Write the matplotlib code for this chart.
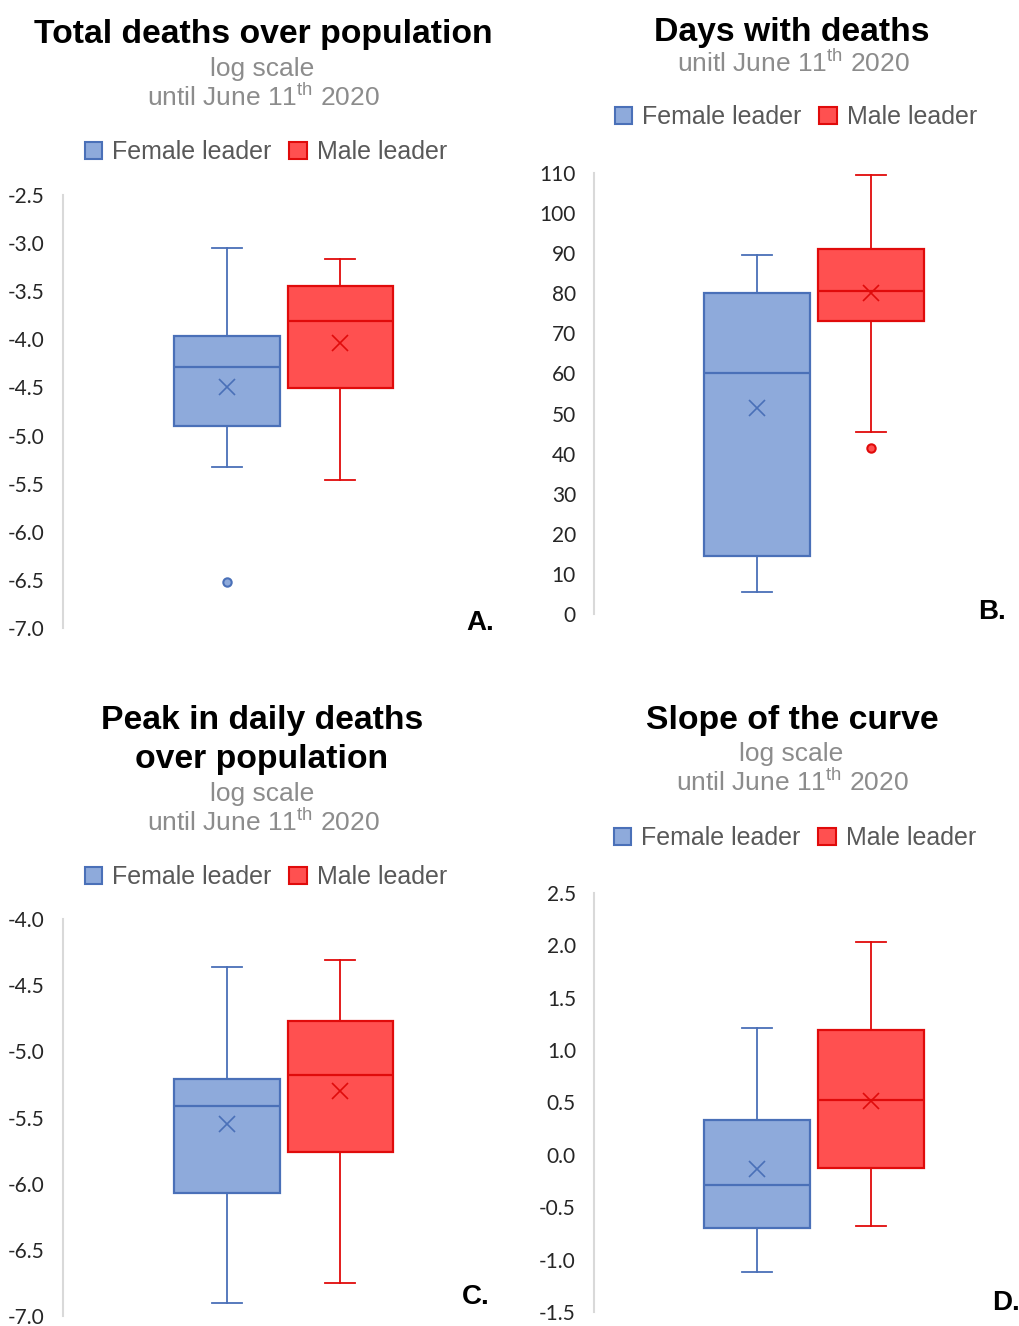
import matplotlib.pyplot as plt
from matplotlib.patches import Patch
from matplotlib.ticker import FormatStrFormatter

plt.rcParams['mathtext.fontset'] = 'custom'
plt.rcParams['mathtext.rm'] = 'Liberation Sans'

# box stats: [lower whisker, Q1, median, Q3, upper whisker]
a_female_box = [-5.33, -4.90, -4.29, -3.97, -3.05]
a_female_mean = -4.50
a_female_out = [-6.52]
a_male_box = [-5.46, -4.51, -3.81, -3.45, -3.17]
a_male_mean = -4.04
a_male_out = []

b_female_box = [5.5, 14.5, 60, 80, 89.5]
b_female_mean = 51.4
b_female_out = []
b_male_box = [45.5, 73, 80.5, 91, 109.5]
b_male_mean = 80
b_male_out = [41.5]

c_female_box = [-6.90, -6.07, -5.41, -5.21, -4.36]
c_female_mean = -5.55
c_female_out = []
c_male_box = [-6.75, -5.76, -5.18, -4.77, -4.31]
c_male_mean = -5.30
c_male_out = []

d_female_box = [-1.12, -0.70, -0.29, 0.33, 1.21]
d_female_mean = -0.135
d_female_out = []
d_male_box = [-0.68, -0.13, 0.52, 1.19, 2.03]
d_male_mean = 0.51
d_male_out = []

a_ticks = [-2.5, -3.0, -3.5, -4.0, -4.5, -5.0, -5.5, -6.0, -6.5, -7.0]
b_ticks = [0, 10, 20, 30, 40, 50, 60, 70, 80, 90, 100, 110]
c_ticks = [-4.0, -4.5, -5.0, -5.5, -6.0, -6.5, -7.0]
d_ticks = [2.5, 2.0, 1.5, 1.0, 0.5, 0.0, -0.5, -1.0, -1.5]

series_names = ['Female leader', 'Male leader']

FEM_FILL, FEM_EDGE = '#8eaadb', '#4a70b8'
MAL_FILL, MAL_EDGE = '#ff5050', '#e00b0b'

W, H = 1019, 1326
fig = plt.figure(figsize=(W / 100, H / 100), dpi=100)


def px_axes(left, top, right, bottom):
    return fig.add_axes([left / W, 1 - bottom / H, (right - left) / W, (bottom - top) / H])


def ftext(x, y, s, **kw):
    kw.setdefault('ha', 'center')
    fig.text(x / W, 1 - y / H, s, va='baseline', **kw)


def make_stats(box, mean, out):
    return {'whislo': box[0], 'q1': box[1], 'med': box[2], 'q3': box[3],
            'whishi': box[4], 'mean': mean, 'fliers': out}


def draw_box(ax, stats, pos, fill, edge):
    ax.bxp([stats], positions=[pos], widths=0.93, capwidths=0.27,
           patch_artist=True, showmeans=True,
           boxprops=dict(facecolor=fill, edgecolor=edge, linewidth=1.6),
           whiskerprops=dict(color=edge, linewidth=1.3),
           capprops=dict(color=edge, linewidth=1.3),
           medianprops=dict(color=edge, linewidth=1.6),
           meanprops=dict(marker='x', markersize=12, markeredgecolor=edge,
                          markeredgewidth=1.2),
           flierprops=dict(marker='o', markersize=6, markerfacecolor=fill,
                           markeredgecolor=edge, markeredgewidth=1.5))


def draw_panel(ax, fem, mal, ticks, fmt, xlim):
    draw_box(ax, make_stats(*fem), 1, FEM_FILL, FEM_EDGE)
    draw_box(ax, make_stats(*mal), 2, MAL_FILL, MAL_EDGE)
    ax.set_ylim(min(ticks), max(ticks))
    ax.set_yticks(ticks)
    ax.yaxis.set_major_formatter(FormatStrFormatter(fmt))
    ax.set_xlim(*xlim)
    ax.set_xticks([])
    for s in ['top', 'right', 'bottom']:
        ax.spines[s].set_visible(False)
    ax.spines['left'].set_color('#d9d9d9')
    ax.spines['left'].set_linewidth(1.5)
    ax.tick_params(axis='y', length=0, pad=13, labelsize=15, labelcolor='#262626')
    for lab in ax.get_yticklabels():
        lab.set_fontfamily('Lato')
    ax.patch.set_alpha(0)


def legend(cx, cy):
    handles = [Patch(facecolor=FEM_FILL, edgecolor=FEM_EDGE, linewidth=1.5),
               Patch(facecolor=MAL_FILL, edgecolor=MAL_EDGE, linewidth=1.5)]
    fig.legend(handles, series_names, loc='center', ncol=2,
               bbox_to_anchor=(cx / W, 1 - cy / H), frameon=False,
               prop={'family': 'Liberation Sans', 'size': 18},
               labelcolor='#595959', handlelength=0.7, handleheight=0.7,
               handletextpad=0.4, columnspacing=0.7, borderpad=0)


title_kw = dict(fontsize=24.3, fontweight='bold', family='Liberation Sans', color='black')
sub_kw = dict(fontsize=19, family='Liberation Sans', color='#8c8c8c')
lab_kw = dict(fontsize=20, fontweight='bold', family='Liberation Sans', color='black', ha='left')

# A
ax_a = px_axes(63, 195, 504, 628)
draw_panel(ax_a, (a_female_box, a_female_mean, a_female_out),
           (a_male_box, a_male_mean, a_male_out), a_ticks, '%.1f', (-0.451, 3.45))
ftext(263, 43, 'Total deaths over population', **title_kw)
ftext(262, 76, 'log scale', **sub_kw)
ftext(263, 106, r'until June 11$^{\mathrm{th}}$ 2020', **sub_kw)
legend(266, 152)
ftext(466, 630, 'A.', **lab_kw)

# B
ax_b = px_axes(594, 173, 1010, 614)
draw_panel(ax_b, (b_female_box, b_female_mean, b_female_out),
           (b_male_box, b_male_mean, b_male_out), b_ticks, '%d', (-0.43, 3.22))
ftext(792, 41, 'Days with deaths', **title_kw)
ftext(793, 72, r'unitl June 11$^{\mathrm{th}}$ 2020', **sub_kw)
legend(796, 117)
ftext(978, 619, 'B.', **lab_kw)

# C
ax_c = px_axes(63, 919, 504, 1316)
draw_panel(ax_c, (c_female_box, c_female_mean, c_female_out),
           (c_male_box, c_male_mean, c_male_out), c_ticks, '%.1f', (-0.451, 3.45))
ftext(262, 729, 'Peak in daily deaths', **title_kw)
ftext(262, 768, 'over population', **title_kw)
ftext(262, 801, 'log scale', **sub_kw)
ftext(263, 831, r'until June 11$^{\mathrm{th}}$ 2020', **sub_kw)
legend(266, 877)
ftext(462, 1304, 'C.', **lab_kw)

# D
ax_d = px_axes(594, 893, 1010, 1312)
draw_panel(ax_d, (d_female_box, d_female_mean, d_female_out),
           (d_male_box, d_male_mean, d_male_out), d_ticks, '%.1f', (-0.43, 3.22))
ftext(792, 729, 'Slope of the curve', **title_kw)
ftext(791, 761, 'log scale', **sub_kw)
ftext(792, 791, r'until June 11$^{\mathrm{th}}$ 2020', **sub_kw)
legend(795, 838)
ftext(992, 1310, 'D.', **lab_kw)

fig.savefig('out.png', dpi=100)
